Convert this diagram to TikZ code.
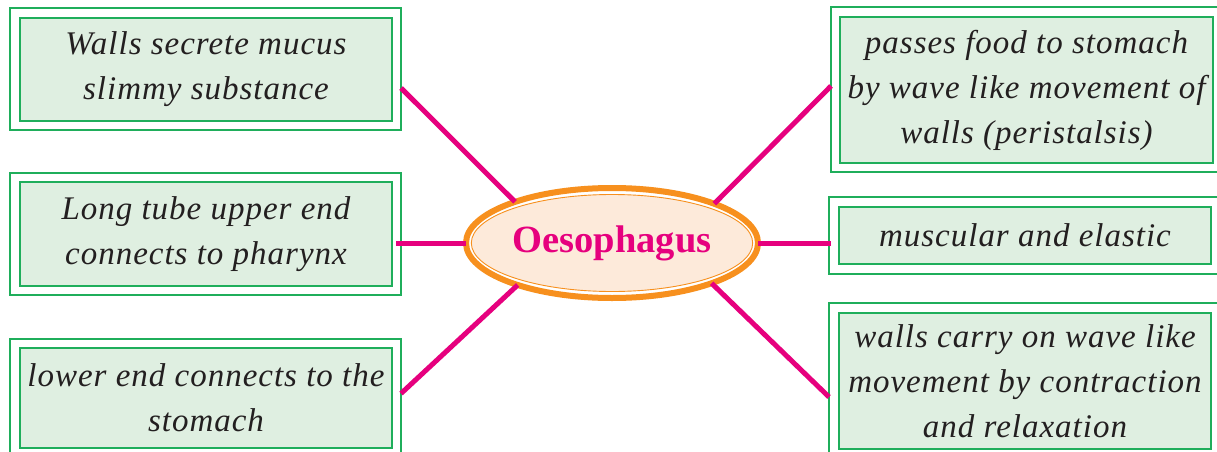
\documentclass[tikz,border=0pt]{standalone}
\usepackage{fontspec}
\setmainfont{Liberation Serif}
\newfontfamily\boxfont[LetterSpace=3.0]{Liberation Serif}
\usetikzlibrary{shapes.geometric}
\definecolor{boxgreen}{HTML}{1FAE5B}
\definecolor{boxfill}{HTML}{DFEFE1}
\definecolor{linkpink}{HTML}{E6007E}
\definecolor{ovorange}{HTML}{F7901E}
\definecolor{ovfill}{HTML}{FDEADA}
\definecolor{txtgray}{HTML}{231F20}
\tikzset{
  outerbox/.style={draw=boxgreen, line width=1.4pt, rectangle, inner sep=0pt, outer sep=0pt},
  innerbox/.style={draw=boxgreen, line width=1.4pt, fill=boxfill, rectangle, inner sep=0pt,
    align=center, text=txtgray, font=\boxfont\fontsize{33}{45}\selectfont\itshape},
  conn/.style={draw=linkpink, line width=5pt},
}
\begin{document}
\begin{tikzpicture}[x=1pt,y=-1pt]
\clip (0,0) rectangle (1217,452);
\fill[white] (0,0) rectangle (1217,452);
% left boxes
\node[outerbox, minimum width=391pt, minimum height=122pt] (L1o) at (205.5,69) {};
\node[innerbox, minimum width=372pt, minimum height=103pt] (L1) at (206,69.5) {Walls secrete mucus\\slimmy substance};
\node[outerbox, minimum width=391pt, minimum height=122pt] (L2o) at (205.5,234) {};
\node[innerbox, minimum width=372pt, minimum height=104pt] (L2) at (206,234) {Long tube upper end\\connects to pharynx};
\node[outerbox, minimum width=391pt, minimum height=131pt] (L3o) at (205.5,404.5) {};
\node[innerbox, minimum width=372pt, minimum height=100pt] (L3) at (206,398) {lower end connects to the\\stomach};
% right boxes
\node[outerbox, minimum width=391pt, minimum height=165pt] (R1o) at (1026.5,89.5) {};
\node[innerbox, minimum width=373pt, minimum height=146pt] (R1) at (1026.5,90) {passes food to stomach\\by wave like movement of\\walls (peristalsis)};
\node[outerbox, minimum width=393pt, minimum height=77pt] (R2o) at (1025.5,235.5) {};
\node[innerbox, minimum width=372pt, minimum height=57pt] (R2) at (1025,235.5) {muscular and elastic};
\node[outerbox, minimum width=393pt, minimum height=167pt] (R3o) at (1025.5,386.5) {};
\node[innerbox, minimum width=372pt, minimum height=136pt] (R3) at (1025,381) {walls carry on wave like\\movement by contraction\\and relaxation};
% central ellipse
\node[ellipse, draw=ovorange, line width=6pt, fill=white, minimum width=292pt, minimum height=110pt, inner sep=0pt, outer sep=0pt] (oes) at (612,243) {};
\node[ellipse, draw=ovorange, line width=0.9pt, fill=ovfill, minimum width=280pt, minimum height=97pt, inner sep=0pt,
  text=linkpink, font=\fontsize{38.5}{40}\selectfont\bfseries] (oesin) at (612,243) {Oesophagus};
% connectors
\draw[conn] ([yshift=-19pt]L1o.east) -- (oes.157.8);
\draw[conn] ([xshift=-5pt,yshift=-9pt]L2o.east) -- (oes.180);
\draw[conn] ([yshift=11pt]L3o.east) -- (oes.204.1);
\draw[conn] ([yshift=3.5pt]R1o.west) -- (oes.21);
\draw[conn] ([xshift=2pt,yshift=-7.5pt]R2o.west) -- (oes.0);
\draw[conn] ([yshift=-10.5pt]R3o.west) -- (oes.338.4);
\end{tikzpicture}
\end{document}
